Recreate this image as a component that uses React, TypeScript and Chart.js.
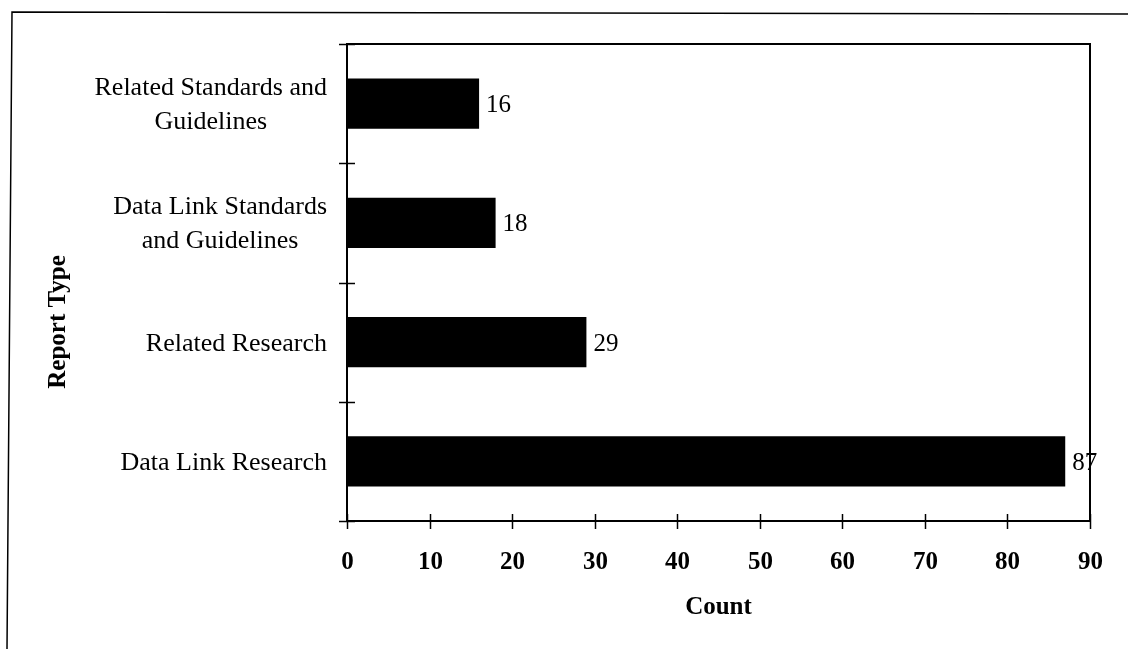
import { useEffect, useRef } from 'react';
import { Chart, registerables } from 'chart.js';

Chart.register(...registerables);

// Report types (multi-line labels are stored as arrays of lines)
const categories: string[][] = [
  ['Related Standards and', 'Guidelines'],
  ['Data Link Standards', 'and Guidelines'],
  ['Related Research'],
  ['Data Link Research'],
];
const counts: number[] = [16, 18, 29, 87];
const countTicks: number[] = [0, 10, 20, 30, 40, 50, 60, 70, 80, 90];
const yAxisTitle = 'Report Type';
const xAxisTitle = 'Count';

const W = 1128;
const H = 649;
const SERIF = "'Liberation Serif', 'Times New Roman', serif";

// Draws the frame, tick marks and all text in the style of a printed report figure.
const reportFigurePlugin = {
  id: 'reportFigure',
  afterDraw(chart: any) {
    const { ctx, chartArea } = chart;
    const { left, right, top, bottom } = chartArea;
    const xs = chart.scales.x;
    const ys = chart.scales.y;
    ctx.save();
    ctx.strokeStyle = '#000';
    ctx.fillStyle = '#000';

    // page frame (top and left edges)
    ctx.lineWidth = 1.5;
    ctx.beginPath();
    ctx.moveTo(W, 14);
    ctx.lineTo(12, 12);
    ctx.lineTo(7, H);
    ctx.stroke();

    // plot frame
    ctx.lineWidth = 2;
    ctx.strokeRect(left, top, right - left, bottom - top);

    // category boundary ticks, crossing the value-axis line
    ctx.lineWidth = 1.5;
    for (let i = 0; i <= categories.length; i++) {
      const y = Math.round(ys.getPixelForValue(i - 0.5)) + 0.5;
      ctx.beginPath();
      ctx.moveTo(left - 8, y);
      ctx.lineTo(left + 8, y);
      ctx.stroke();
    }

    // count ticks, crossing the bottom axis line
    ctx.font = `bold 25px ${SERIF}`;
    ctx.textAlign = 'center';
    ctx.textBaseline = 'alphabetic';
    countTicks.forEach((v) => {
      const x = Math.round(xs.getPixelForValue(v)) + 0.5;
      ctx.beginPath();
      ctx.moveTo(x, bottom - 7);
      ctx.lineTo(x, bottom + 8);
      ctx.stroke();
      ctx.fillText(String(v), x, 569);
    });

    // category labels: block right-aligned to the axis, lines centred in the block
    ctx.font = `26px ${SERIF}`;
    const lineGap = 34;
    const labelRight = left - 20;
    categories.forEach((lines, i) => {
      const cy = ys.getPixelForValue(i);
      const blockW = Math.max(...lines.map((l) => ctx.measureText(l).width));
      const cx = labelRight - blockW / 2;
      const firstBase = cy + 8.5 - ((lines.length - 1) * lineGap) / 2;
      lines.forEach((l, j) => ctx.fillText(l, cx, firstBase + j * lineGap));
    });

    // value labels at the bar ends
    ctx.font = `25px ${SERIF}`;
    ctx.textAlign = 'left';
    const meta = chart.getDatasetMeta(0);
    meta.data.forEach((bar: any, i: number) => {
      ctx.fillText(String(counts[i]), bar.x + 7, bar.y + 8.5);
    });

    // axis titles
    ctx.font = `bold 25px ${SERIF}`;
    ctx.textAlign = 'center';
    ctx.fillText(xAxisTitle, (left + right) / 2, 614);
    ctx.translate(65, 322);
    ctx.rotate(-Math.PI / 2);
    ctx.fillText(yAxisTitle, 0, 0);

    ctx.restore();
  },
};

export default function App() {
  const canvasRef = useRef<HTMLCanvasElement | null>(null);

  useEffect(() => {
    if (!canvasRef.current) return;
    const chart = new Chart(canvasRef.current, {
      type: 'bar',
      data: {
        labels: categories,
        datasets: [
          {
            data: counts,
            backgroundColor: '#000',
            borderWidth: 0,
            barPercentage: 0.42,
            categoryPercentage: 1,
          },
        ],
      },
      options: {
        indexAxis: 'y',
        animation: false,
        responsive: false,
        devicePixelRatio: 1,
        layout: { padding: { top: 44, right: 38, left: 0, bottom: 0 } },
        plugins: {
          legend: { display: false },
          tooltip: { enabled: false },
        },
        scales: {
          x: {
            type: 'linear',
            min: 0,
            max: 90,
            ticks: { display: false, stepSize: 10 },
            grid: { display: false },
            border: { display: false },
            afterFit: (scale: any) => {
              scale.height = 128;
            },
          },
          y: {
            type: 'category',
            ticks: { display: false },
            grid: { display: false },
            border: { display: false },
            afterFit: (scale: any) => {
              scale.width = 347;
            },
          },
        },
      },
      plugins: [reportFigurePlugin],
    });
    return () => chart.destroy();
  }, []);

  return (
    <div style={{ position: 'fixed', left: 0, top: 0, width: W, height: H, background: '#fff' }}>
      <canvas ref={canvasRef} width={W} height={H} style={{ display: 'block', width: W, height: H }} />
    </div>
  );
}
